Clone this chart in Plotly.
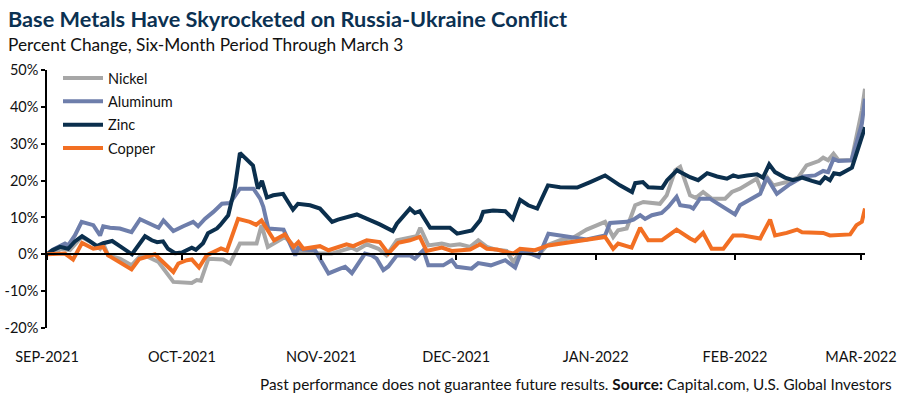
import pandas as pd
import plotly.graph_objects as go

START = "2021-09-01"

# (days since Sep 1 2021, percent change)
NICKEL = [(0,0),(2.5,0.9),(2.9,1.5),(5.1,1.1),(7.7,4.7),(10.3,2.9),(11.8,1.5),(12.5,2.9),(13.6,-0.3),
          (16.2,-1.2),(18.8,-3.0),(20.7,-0.5),(21.8,-0.3),(24.8,-2.1),(28.1,-7.5),(32.2,-7.8),(33.3,-7.0),
          (34.2,-7.2),(35.9,-1.2),(39.2,-1.4),(40.7,-2.5),(42.9,2.9),(46.6,2.9),(47.7,7.9),(49.1,2.0),
          (52.9,4.7),(54.4,2.9),(55.5,1.1),(57.0,0.6),(60.7,0.2),(63.3,0.2),(65.9,1.1),(67.8,1.8),(68.9,1.1),
          (71.1,2.7),(73.7,1.5),(75.5,-0.3),(77.8,3.8),(80.0,4.3),(82.2,4.9),(83.0,7.2),(84.8,2.4),(87.8,2.9),
          (89.6,2.4),(91.8,2.7),(94.1,2.0),(95.9,3.8),(97.8,2.0),(99.6,1.3),(102.2,0.9),(103.7,-2.1),(105.2,0.6),
          (109.3,-0.3),(111.1,2.4),(114.1,3.8),(117.0,4.5),(120.0,6.7),(124.1,8.8),(125.9,4.7),(127.0,6.5),
          (128.9,7.0),(130.8,13.3),(132.6,14.2),(136.3,13.7),(137.8,16.0),(139.7,22.8),(140.8,23.7),(143.0,16.0),
          (144.3,15.3),(145.9,16.9),(147.8,15.1),(150.8,15.1),(152.3,16.9),(154.1,17.8),(157.8,20.5),(158.9,17.3),
          (160.2,20.8),(161.5,18.7),(164.5,19.6),(167.1,20.9),(168.9,24.1),(171.6,25.3),(172.6,26.2),(173.7,25.5),
          (174.9,27.3),(176.0,25.5),(178.9,25.5),(181.2,39.0),(181.9,44.9)]

ALUMINUM = [(0,0),(1.4,1.3),(4.0,2.9),(4.7,2.4),(6.2,5.1),(7.7,8.8),(10.3,7.9),(11.8,5.1),(12.5,7.6),
            (14.0,7.2),(16.2,7.0),(18.8,6.0),(20.7,9.5),(22.9,8.3),(24.8,7.2),(25.9,9.2),(28.1,6.3),(30.3,7.6),
            (32.5,8.8),(33.6,7.6),(35.1,9.6),(37.0,11.5),(38.9,13.7),(40.7,13.9),(42.9,17.8),(45.9,17.8),
            (47.4,15.1),(48.1,12.9),(49.2,7.0),(52.6,6.7),(55.2,-0.3),(55.9,1.8),(57.0,1.3),(59.6,1.1),(62.6,-5.2),
            (65.2,-3.9),(66.3,-3.4),(67.8,-5.1),(70.7,0.2),(72.2,-0.3),(73.3,-1.2),(74.8,-4.3),(75.9,-3.3),
            (77.8,-0.3),(80.7,-0.3),(81.8,-1.2),(83.7,1.1),(84.8,-3.0),(88.1,-3.0),(90.0,-1.6),(91.1,-3.4),
            (94.4,-3.9),(95.9,-2.4),(98.7,-3.0),(101.9,-1.6),(104.1,-3.6),(105.6,1.1),(107.0,0.5),(109.3,-0.7),
            (111.5,5.6),(114.1,5.1),(117.8,4.5),(120.0,4.0),(124.1,5.1),(125.2,8.5),(128.9,8.8),(130.4,9.4),
            (131.9,10.6),(133.0,9.6),(134.5,10.6),(136.7,11.2),(138.2,12.9),(140.0,15.6),(140.8,13.3),(143.0,12.9),
            (143.7,12.4),(145.2,15.1),(147.4,15.1),(150.8,12.6),(153.0,10.8),(154.1,13.3),(156.7,15.1),(158.6,16.4),
            (160.0,20.9),(162.3,16.4),(165.2,19.0),(168.2,21.1),(170.8,21.4),(172.6,22.6),(173.7,22.3),(174.9,25.9),
            (176.0,25.3),(178.9,25.5),(181.2,35.4),(181.9,42.2)]

ZINC = [(0,0),(1.1,1.0),(2.9,2.0),(4.7,1.5),(6.2,3.5),(7.8,4.9),(9.6,3.5),(11.1,2.2),(12.5,3.0),(14.5,3.6),
        (16.2,2.2),(18.9,0.0),(21.8,4.9),(23.3,3.8),(24.5,3.3),(25.8,3.5),(26.9,1.5),(28.5,0.3),(30.0,0.5),
        (31.4,1.2),(32.2,1.8),(33.1,1.2),(34.7,3.0),(35.8,5.7),(37.8,7.0),(38.5,7.9),(40.3,10.6),(41.8,18.2),
        (42.9,27.5),(45.8,24.1),(46.9,17.8),(47.8,19.9),(48.9,15.4),(50.3,16.0),(52.5,16.4),(54.7,12.1),
        (55.8,13.7),(58.5,13.3),(60.7,12.4),(63.4,8.8),(64.7,9.4),(68.9,10.8),(71.2,9.6),(74.0,8.1),(76.9,6.3),
        (77.8,8.3),(80.7,12.4),(81.8,11.2),(82.9,11.7),(85.2,7.2),(89.6,7.2),(91.2,5.6),(94.5,6.5),(96.3,9.2),
        (97.0,11.5),(99.2,11.9),(101.9,11.7),(103.6,9.6),(105.2,14.8),(107.0,13.3),(109.0,12.4),(111.4,18.7),
        (114.1,18.2),(117.9,18.1),(120.8,19.6),(124.1,21.4),(127.4,18.7),(130.1,16.9),(130.8,19.3),(132.5,19.6),
        (133.7,18.2),(136.8,18.0),(137.9,20.1),(140.1,22.8),(140.8,22.3),(143.0,20.9),(144.8,20.1),(146.8,22.0),
        (149.0,21.1),(151.2,20.5),(152.6,21.4),(153.7,21.0),(155.7,21.4),(157.9,21.7),(159.2,20.8),(160.6,24.4),
        (161.9,22.3),(164.1,20.8),(165.9,20.1),(167.9,20.8),(170.1,19.9),(171.9,19.3),(173.0,20.9),(174.1,20.1),
        (175.0,22.0),(176.3,21.7),(179.0,23.5),(180.8,30.0),(181.9,34.5)]

COPPER = [(0,0),(4.0,0.2),(5.8,-1.4),(7.8,3.1),(10.3,1.5),(12.5,2.0),(13.6,-0.3),(18.8,-4.1),(20.5,-1.3),
          (24.0,0.0),(28.1,-4.8),(29.2,-2.5),(31.1,-1.6),(32.2,-1.4),(33.8,-3.6),(35.5,-0.3),(38.7,1.6),
          (40.0,1.0),(42.5,9.6),(45.1,8.8),(46.5,8.0),(47.7,9.2),(50.5,3.8),(52.9,5.4),(54.8,2.0),(55.9,3.3),
          (57.0,1.5),(60.7,2.2),(62.6,1.1),(64.8,2.0),(66.6,2.7),(68.1,2.2),(71.1,3.8),(74.0,3.3),(75.9,0.2),
          (78.1,3.1),(80.7,3.8),(82.9,4.7),(84.4,0.9),(87.8,1.8),(90.0,0.9),(94.1,1.3),(96.3,2.7),(97.8,1.5),
          (100.0,1.3),(103.7,0.2),(105.2,1.5),(108.5,1.1),(111.5,2.4),(124.1,4.7),(125.9,1.5),(127.0,2.9),
          (130.0,1.8),(131.9,7.2),(133.7,3.8),(136.7,3.8),(140.0,6.7),(143.0,4.3),(144.1,3.6),(145.9,5.8),
          (147.8,1.5),(150.4,1.5),(152.6,5.1),(154.8,5.1),(158.6,4.3),(160.8,9.4),(161.9,5.1),(164.5,5.8),
          (166.8,6.7),(167.9,6.0),(172.6,5.8),(174.1,5.1),(178.6,5.4),(180.0,7.9),(181.2,8.8),(181.9,12.4)]

SERIES_NAMES = ["Nickel", "Aluminum", "Zinc", "Copper"]
SERIES_COLORS = ["#a7a7a7", "#6e7eab", "#0b2f4d", "#f26f23"]
MONTH_TICKS = ["2021-09-01", "2021-10-01", "2021-11-01", "2021-12-01", "2022-01-01", "2022-02-01", "2022-03-01"]
MONTH_LABELS = ["SEP-2021", "OCT-2021", "NOV-2021", "DEC-2021", "JAN-2022", "FEB-2022", "MAR-2022"]
Y_TICKS = [-20, -10, 0, 10, 20, 30, 40, 50]

start = pd.Timestamp(START)


def to_xy(pairs):
    days = [p[0] for p in pairs]
    vals = [p[1] for p in pairs]
    dates = [start + pd.Timedelta(days=d) for d in days]
    return dates, vals


FONT = "Lato, 'Open Sans', sans-serif"
W, H = 900, 398
ML, MR, MT, MB = 47, 35, 70, 70
plot_w = W - ML - MR
plot_h = H - MT - MB

fig = go.Figure()
for i, (name, data) in enumerate(zip(SERIES_NAMES, [NICKEL, ALUMINUM, ZINC, COPPER])):
    x, y = to_xy(data)
    fig.add_trace(go.Scatter(x=x, y=y, mode="lines", name=name, legendgroup=name,
                             line=dict(color=SERIES_COLORS[i], width=4)))

end_date = start + pd.Timedelta(days=NICKEL[-1][0])

# helper trace so the zero-line axis with tick marks is rendered
fig.add_trace(go.Scatter(x=[pd.Timestamp(t) for t in MONTH_TICKS], y=[0] * len(MONTH_TICKS),
                         xaxis="x2", mode="lines", line=dict(width=0, color="rgba(0,0,0,0)"),
                         showlegend=False, hoverinfo="skip"))

zero_pos = (0 - Y_TICKS[0]) / (Y_TICKS[-1] - Y_TICKS[0])

fig.update_layout(
    width=W, height=H,
    margin=dict(l=ML, r=MR, t=MT, b=MB, autoexpand=False),
    plot_bgcolor="white", paper_bgcolor="white",
    font=dict(family=FONT, color="#111111", size=14),
    showlegend=True,
    legend=dict(x=(58 - ML) / plot_w, y=1 + 8 / plot_h, xanchor="left", yanchor="top",
                bgcolor="rgba(0,0,0,0)", font=dict(size=14.5, color="#111111"),
                tracegroupgap=1.5, itemwidth=40),
    xaxis=dict(range=[start, end_date], tickvals=MONTH_TICKS, ticktext=MONTH_LABELS,
               showgrid=False, zeroline=False, showline=False, ticks="outside", ticklen=16,
               tickcolor="rgba(0,0,0,0)", tickfont=dict(size=14.5, color="#111111"), automargin=False),
    xaxis2=dict(range=[start, end_date], overlaying="x", anchor="free", position=zero_pos,
                side="bottom", tickvals=MONTH_TICKS, showticklabels=False, showgrid=False,
                zeroline=False, showline=True, linecolor="black", linewidth=1.5,
                ticks="outside", ticklen=5, tickcolor="black", tickwidth=1.5, automargin=False),
    yaxis=dict(range=[Y_TICKS[0], Y_TICKS[-1]], tickvals=Y_TICKS,
               ticktext=[f"{v}%" for v in Y_TICKS], showgrid=False, zeroline=False,
               showline=True, linecolor="black", linewidth=1.5, ticks="outside", ticklen=4,
               tickcolor="black", tickwidth=1.5, tickfont=dict(size=14.5, color="#111111"),
               automargin=False),
    annotations=[
        dict(text="<b>Base Metals Have Skyrocketed on Russia-Ukraine Conflict</b>", xref="paper", yref="paper",
             x=(6 - ML) / plot_w, y=1 + (MT - 4) / plot_h, xanchor="left", yanchor="top", showarrow=False,
             font=dict(family=FONT, size=21.7, color="#0b3152")),
        dict(text="Percent Change, Six-Month Period Through March 3", xref="paper", yref="paper",
             x=(6 - ML) / plot_w, y=1 + (MT - 32) / plot_h, xanchor="left", yanchor="top", showarrow=False,
             font=dict(family=FONT, size=17.3, color="#111111")),
        dict(text="Past performance does not guarantee future results. <b>Source:</b> Capital.com, U.S. Global Investors",
             xref="paper", yref="paper", x=(894 - ML) / plot_w, y=-(395 - (H - MB)) / plot_h,
             xanchor="right", yanchor="bottom", showarrow=False,
             font=dict(family=FONT, size=15.3, color="#111111")),
    ],
)

fig.write_html("out.html", config={"displayModeBar": False},
               post_script="document.body.style.margin='0';document.body.style.overflow='hidden';")
